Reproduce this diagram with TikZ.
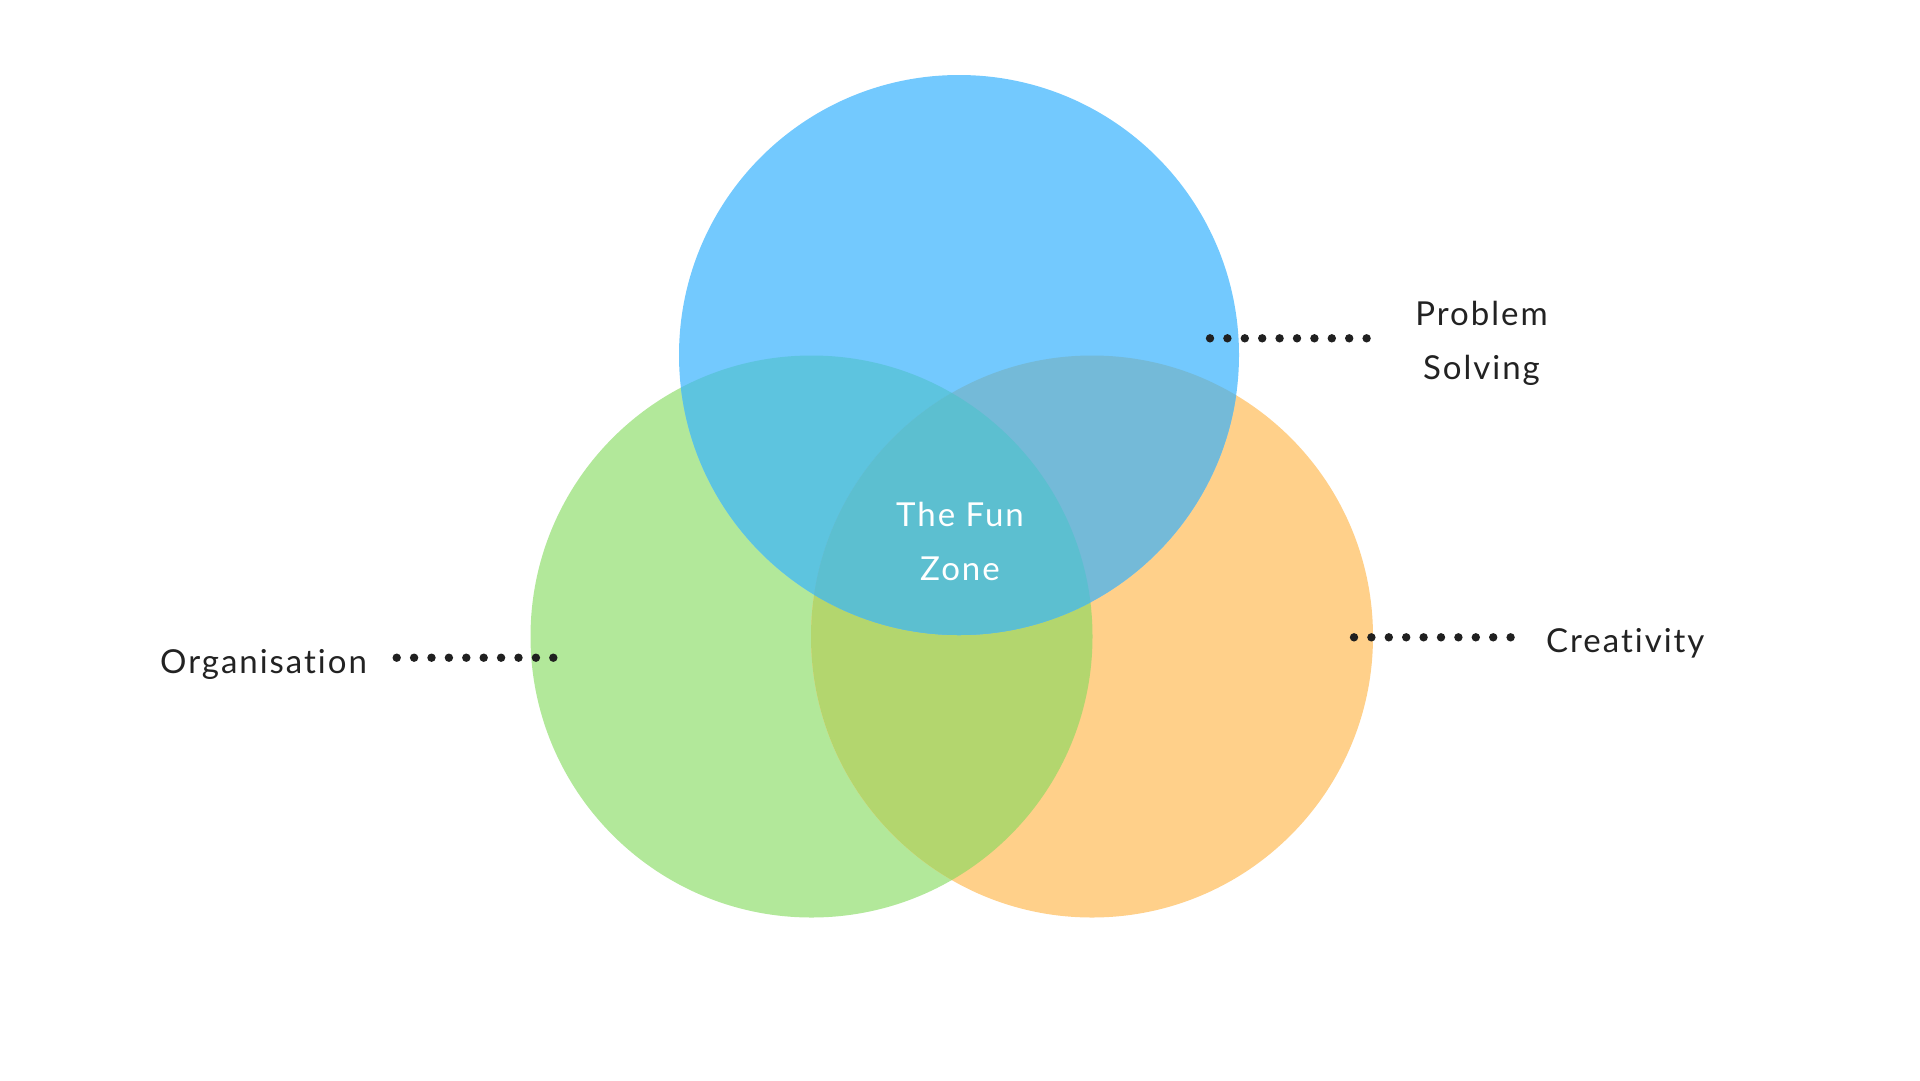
\documentclass[tikz,border=0pt]{standalone}
\usepackage{fontspec}
\setmainfont{Lato}[LetterSpace=6,Ligatures={NoCommon}]
\usetikzlibrary{positioning}
\definecolor{setblue}{HTML}{73C9FE}
\definecolor{setgreen}{HTML}{B2E89A}
\definecolor{setorange}{HTML}{FFD08A}
\definecolor{bluegreen}{HTML}{5DC4DF}
\definecolor{blueorange}{HTML}{74BAD8}
\definecolor{greenorange}{HTML}{B3D66E}
\definecolor{funzone}{HTML}{5CBFD0}
\definecolor{ink}{HTML}{222222}
\tikzstyle{label text}=[inner sep=0pt,text=ink,font=\fontsize{33}{54}\selectfont]
\tikzstyle{leader dot}=[fill=ink!95!black]

\begin{document}
\begin{tikzpicture}[x=1pt,y=-1pt]
  \useasboundingbox (0,0) rectangle (1920,1080);

  \coordinate (org) at (811.5,636.5);
  \coordinate (cre) at (1092,636.5);
  \coordinate (pro) at (959,355);

  \fill[setgreen] (org) circle (281); % organisation
  \fill[setorange] (cre) circle (281); % creativity
  \begin{scope}
    \clip (org) circle (281);
    \fill[greenorange] (cre) circle (281);
  \end{scope}
  \fill[setblue] (pro) circle (280); % problem solving
  \begin{scope}
    \clip (pro) circle (280);
    \fill[bluegreen] (org) circle (281);
    \fill[blueorange] (cre) circle (281);
    \clip (org) circle (281);
    \fill[funzone] (cre) circle (281); % all three
  \end{scope}

  \node[label text,align=center,text=white] (fun) at (960,541) {The Fun\\Zone};
  \node[label text,align=center] (problem) at (1481.5,343) {Problem\\Solving};
  \node[label text,anchor=base west] (creativity) at (1546,652) {Creativity};
  \node[label text,anchor=base west] (organisation) at (160,673) {Organisation};

  \coordinate (prodots) at (1210,338.3);
  \coordinate (credots) at (1354,637.3);
  \coordinate (orgdots) at (396.7,657.7);
  \foreach \from in {prodots,credots,orgdots}{
    \foreach \i in {0,...,9}
      \fill[leader dot] (\from) ++(\i*17.4,0) circle (4.2);
  }

\end{tikzpicture}
\end{document}
